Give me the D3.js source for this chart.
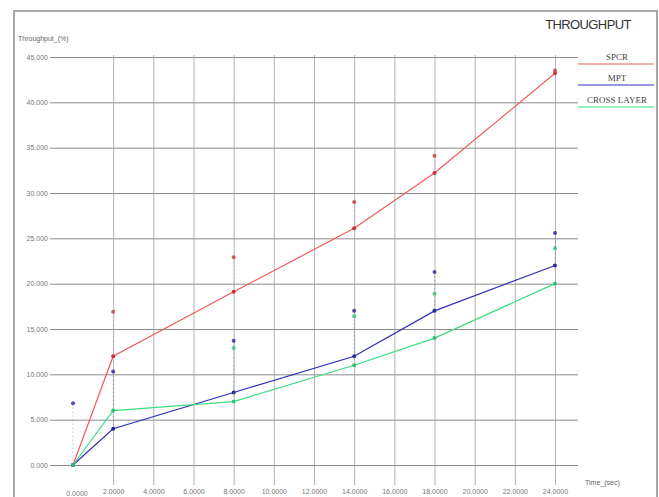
<!DOCTYPE html>
<html>
<head>
<meta charset="utf-8">
<script src="https://cdn.jsdelivr.net/npm/d3@7"></script>
<style>
  body { margin: 0; background: #fff; }
  svg { display: block; }
</style>
</head>
<body>
<svg id="chart" width="659" height="497"></svg>
<script>
// time points (sec)
const times = [0, 2, 8, 14, 18, 24];
const xTicks = [2, 4, 6, 8, 10, 12, 14, 16, 18, 20, 22, 24];
const yTicks = [0, 5, 10, 15, 20, 25, 30, 35, 40, 45];

// mean throughput curves
const spcr = [0, 12.0, 19.1, 26.1, 32.2, 43.2];
const mpt = [0, 4.0, 8.0, 12.0, 17.0, 22.0];
const crossLayer = [0, 6.0, 7.0, 11.0, 14.0, 20.0];

// upper marks drawn above each curve
const spcrMax = [null, 16.9, 22.9, 29.0, 34.1, 43.5];
const mptMax = [6.8, 10.3, 13.7, 17.0, 21.3, 25.6];
const crossMax = [null, null, 12.9, 16.4, 18.9, 23.9];

const seriesNames = ["SPCR", "MPT", "CROSS LAYER"];

const svg = d3.select("#chart");

const colors = {
  SPCR: "#f05a5a",
  MPT: "#2f2fb8",
  "CROSS LAYER": "#3ddc84",
};
const dotColors = {
  SPCR: "#d0303a",
  MPT: "#24249a",
  "CROSS LAYER": "#30c070",
};

const x = d3.scaleLinear().domain([0, 24]).range([73, 555]);
const y = d3.scaleLinear().domain([0, 45]).range([465, 57]);

// outer frame
svg
  .append("rect")
  .attr("x", 14)
  .attr("y", 11)
  .attr("width", 643)
  .attr("height", 500)
  .style("fill", "none")
  .style("stroke", "#a8a8a8")
  .style("stroke-width", 2);

// horizontal grid + y labels
const yAxis = d3
  .axisLeft(y)
  .tickValues(yTicks)
  .tickSize(-(578 - 50))
  .tickFormat(d3.format(".3f"));
const gy = svg.append("g").attr("transform", "translate(50,0)").call(yAxis);
gy.select(".domain").remove();
gy.selectAll(".tick line").style("stroke", "#8c8c8c").style("stroke-width", 1);
gy.selectAll(".tick text")
  .attr("x", -2)
  .style("font-family", "Liberation Sans, Arial, sans-serif")
  .style("font-size", "7px")
  .style("fill", "#777");

// vertical grid + x labels
const xAxis = d3
  .axisBottom(x)
  .tickValues(xTicks)
  .tickSize(-(485 - 55))
  .tickFormat(d3.format(".4f"));
const gx = svg.append("g").attr("transform", "translate(0,485)").call(xAxis);
gx.select(".domain").remove();
gx.selectAll(".tick line").style("stroke", "#a0a0a0").style("stroke-width", 0.8);
gx.selectAll(".tick text")
  .attr("y", 4)
  .style("font-family", "Liberation Sans, Arial, sans-serif")
  .style("font-size", "7px")
  .style("fill", "#777");
// first time label at the origin, no grid line there
svg
  .append("text")
  .attr("x", x(0) + 4)
  .attr("y", 496)
  .attr("text-anchor", "middle")
  .style("font-family", "Liberation Sans, Arial, sans-serif")
  .style("font-size", "7px")
  .style("fill", "#777")
  .text(d3.format(".4f")(0));

// axis titles
svg
  .append("text")
  .attr("x", 18)
  .attr("y", 41)
  .style("font-family", "Liberation Sans, Arial, sans-serif")
  .style("font-size", "7px")
  .style("fill", "#666")
  .text("Throughput_(%)");

svg
  .append("text")
  .attr("x", 585)
  .attr("y", 485)
  .style("font-family", "Liberation Sans, Arial, sans-serif")
  .style("font-size", "7px")
  .style("fill", "#666")
  .text("Time_(sec)");

// chart title
svg
  .append("text")
  .attr("x", 588)
  .attr("y", 29)
  .attr("text-anchor", "middle")
  .style("font-family", "Liberation Sans, Arial, sans-serif")
  .style("font-size", "13px")
  .style("letter-spacing", "-0.6px")
  .style("fill", "#333")
  .text("THROUGHPUT");

const series = [
  { name: "SPCR", values: spcr, max: spcrMax },
  { name: "MPT", values: mpt, max: mptMax },
  { name: "CROSS LAYER", values: crossLayer, max: crossMax },
];

const line = d3
  .line()
  .x((d, i) => x(times[i]))
  .y((d) => y(d));

series.forEach((s) => {
  const g = svg.append("g");

  // faint dashed drop from the upper mark to the curve
  g.selectAll("line.err")
    .data(s.max.map((m, i) => ({ m, v: s.values[i], t: times[i] })).filter((d) => d.m != null))
    .join("line")
    .attr("x1", (d) => x(d.t))
    .attr("x2", (d) => x(d.t))
    .attr("y1", (d) => y(d.m))
    .attr("y2", (d) => y(d.v))
    .style("stroke", colors[s.name])
    .style("stroke-opacity", 0.25)
    .style("stroke-dasharray", "2,2")
    .style("stroke-width", 1);

  g.append("path")
    .attr("d", line(s.values))
    .style("fill", "none")
    .style("stroke", colors[s.name])
    .style("stroke-width", 1.2);

  g.selectAll("circle.pt")
    .data(s.values)
    .join("circle")
    .attr("cx", (d, i) => x(times[i]))
    .attr("cy", (d) => y(d))
    .attr("r", 2)
    .style("fill", dotColors[s.name]);

  g.selectAll("circle.mx")
    .data(s.max.map((m, i) => ({ m, t: times[i] })).filter((d) => d.m != null))
    .join("circle")
    .attr("cx", (d) => x(d.t))
    .attr("cy", (d) => y(d.m))
    .attr("r", 2)
    .style("fill", dotColors[s.name])
    .style("fill-opacity", 0.8);
});

// legend
const legendY = [60, 81, 103];
seriesNames.forEach((name, i) => {
  svg
    .append("text")
    .attr("x", 617)
    .attr("y", legendY[i])
    .attr("text-anchor", "middle")
    .style("font-family", "Liberation Serif, Times New Roman, serif")
    .style("font-size", "9px")
    .style("fill", "#444")
    .text(name);
  svg
    .append("line")
    .attr("x1", 578)
    .attr("x2", 654)
    .attr("y1", legendY[i] + 4)
    .attr("y2", legendY[i] + 4)
    .style("stroke", colors[name])
    .style("stroke-width", 1);
});
</script>
</body>
</html>
